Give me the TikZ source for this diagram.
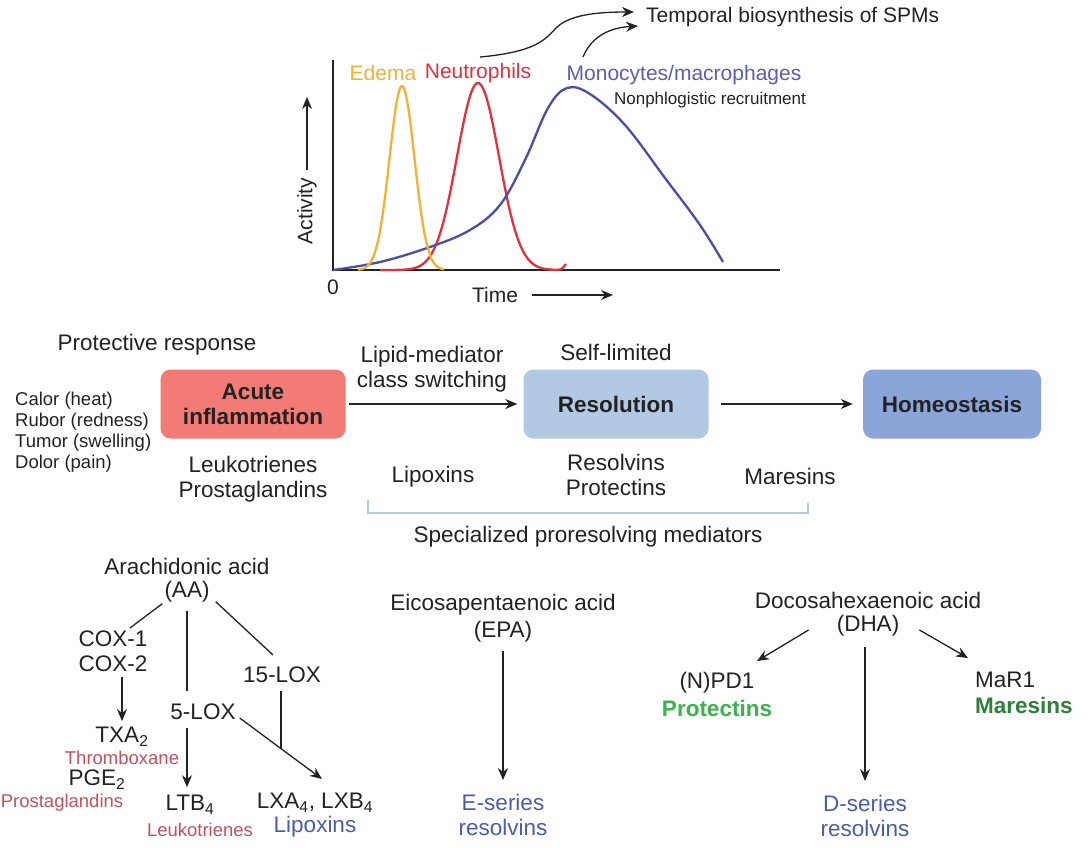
\documentclass[tikz,border=0pt]{standalone}
\usepackage{fontspec}
\setmainfont{Liberation Sans}
\usetikzlibrary{arrows.meta}
\definecolor{edemac}{HTML}{F2B233}
\definecolor{neutc}{HTML}{E0313D}
\definecolor{monoc}{HTML}{4C4DA6}
\definecolor{monot}{HTML}{5A5DB5}
\definecolor{acutefill}{HTML}{F37B75}
\definecolor{resolfill}{HTML}{B2C9E4}
\definecolor{homeofill}{HTML}{8CA5D9}
\definecolor{brack}{HTML}{B5CADF}
\definecolor{redlab}{HTML}{C3515E}
\definecolor{bluelab}{HTML}{4D5CA8}
\definecolor{greenP}{HTML}{3CB44B}
\definecolor{greenM}{HTML}{2F7F3C}
\definecolor{tc}{HTML}{222222}
\begin{document}
\begin{tikzpicture}[x=1pt,y=-1pt,
  txt/.style={font=\fontsize{22.5}{25}\selectfont, text=tc, inner sep=0pt, align=center},
  chartlab/.style={font=\fontsize{21}{25}\selectfont, text=tc, inner sep=0pt},
  small/.style={font=\fontsize{18.5}{21}\selectfont, text=tc, inner sep=0pt},
  tiny/.style={font=\fontsize{17}{20}\selectfont, text=tc, inner sep=0pt},
  box/.style={rounded corners=10pt, minimum height=69pt, font=\fontsize{22.5}{25}\selectfont\bfseries, text=tc, align=center},
  arr/.style={draw=tc, line width=1.3pt, -{Stealth[length=12pt,width=10pt]}},
  ln/.style={draw=tc, line width=1.3pt},
  curve/.style={line width=2.3pt}]
\useasboundingbox (0,0) rectangle (1092,847);
\fill[white] (0,0) rectangle (1092,847);

% ---------- chart ----------
\draw[ln, line width=1.7pt] (333,60) -- (333,270) -- (780,270);
\draw[curve, neutc] plot[domain=380:558, samples=80] (\x, {270-187*exp(-((\x-478)^2)/(2*21*21))}) .. controls (562,269) .. (566,264);
\draw[curve, monoc] plot[smooth, tension=0.6] coordinates {(333,270) (380,262) (430,247) (470,230) (500,205) (525,160) (548,108) (567,88) (590,94) (625,125) (665,178) (700,225) (723,262)};
\draw[curve, edemac] plot[domain=358:444, samples=80] (\x, {270-184*exp(-((\x-402)^2)/(2*12.5*12.5))});

\node[chartlab, text=edemac] (edema) at (383,73) {Edema};
\node[chartlab, text=neutc] (neut) at (478,73) {Neutrophils};
\node[chartlab, text=monot] (mono) at (684,75) {Monocytes/macrophages};
\node[tiny] (nonph) at (710,100) {Nonphlogistic recruitment};
\node[chartlab, anchor=west] (temporal) at (646,17) {Temporal biosynthesis of SPMs};
\node[chartlab, rotate=90] (activity) at (307,211) {Activity};
\coordinate (acttop) at (307,97);
\draw[arr, shorten <=8pt] (activity.east) -- (activity.east |- acttop);
\node[chartlab] (zero) at (333,287) {0};
\node[chartlab] (time) at (495,295) {Time};
\coordinate (timeend) at (613,293);
\draw[arr, shorten <=14pt] (time.east) -- (time.east -| timeend);
\coordinate (a1s) at (480,57);
\coordinate (a2s) at (583,57);
\draw[arr] (a1s) .. controls (535,52) and (545,40) .. (556,28) .. controls (570,14) and (600,12) .. ([xshift=-12pt,yshift=5pt]temporal.west);
\draw[arr] (a2s) .. controls (590,40) and (605,28) .. ([xshift=-8pt,yshift=-9pt]temporal.west);

% ---------- middle row ----------
\node[txt] (prot) at (157,345) {Protective response};
\node[box, fill=acutefill, minimum width=185pt] (acute) at (253,404) {Acute\\inflammation};
\node[small, align=left, anchor=north west] (signs) at (15,392) {Calor (heat)\\Rubor (redness)\\Tumor (swelling)\\Dolor (pain)};
\node[txt] (leuk) at (253,479) {Leukotrienes\\Prostaglandins};
\node[txt] (lipid) at (432,369) {Lipid-mediator\\class switching};
\node[txt] (self) at (616,352) {Self-limited};
\node[box, fill=resolfill, minimum width=185pt] (resol) at (616,404) {Resolution};
\node[box, fill=homeofill, minimum width=178pt] (homeo) at (952,404) {Homeostasis};
\draw[arr, shorten <=3pt, shorten >=6pt] (acute.east) -- (resol.west);
\draw[arr, shorten <=12pt, shorten >=10pt] (resol.east) -- (homeo.west);
\node[txt] (lipox) at (433,477) {Lipoxins};
\node[txt] (resprot) at (616,475) {Resolvins\\Protectins};
\node[txt] (mares) at (790,476) {Maresins};
\coordinate (bl) at (368,500);
\coordinate (br) at (808,503);
\draw[brack, line width=1.8pt] (bl) -- (368,513) -- (808,513) -- (br);
\node[txt] (spm) at (588,537) {Specialized proresolving mediators};

% ---------- AA ----------
\node[txt] (aaname) at (187,566) {Arachidonic acid};
\node[txt] (aa) at (187,592) {(AA)};
\node[txt] (cox) at (113,651) {COX-1\\COX-2};
\node[txt] (lox15) at (282,675) {15-LOX};
\node[txt] (lox5) at (203,712) {5-LOX};
\node[txt] (txa) at (122,737) {TXA\textsubscript{2}};
\node[small, text=redlab] (thromb) at (122,758) {Thromboxane};
\node[txt] (pge) at (97,780) {PGE\textsubscript{2}};
\node[small, text=redlab] (prost) at (62,803) {Prostaglandins};
\node[txt] (ltb) at (190,805) {LTB\textsubscript{4}};
\node[small, text=redlab] (leukred) at (200,830) {Leukotrienes};
\node[txt] (lxa) at (315,803) {LXA\textsubscript{4}, LXB\textsubscript{4}};
\node[txt, text=bluelab] (lipoxblue) at (315,827) {Lipoxins};
\coordinate (coxtop) at (130,628);
\coordinate (l15top) at (273,655);
\coordinate (l5line) at (187,691);
\coordinate (lxtip) at (322,779);
\draw[ln] ([xshift=-2pt,yshift=-1pt]aa.south west) -- (coxtop);
\draw[ln] ([xshift=6pt,yshift=1pt]aa.south east) -- (l15top);
\draw[ln] ([yshift=-8pt]aa.south) -- (l5line);
\draw[arr, shorten <=5pt, shorten >=6pt] (cox.south -| txa.north) -- (txa.north);
\draw[arr, shorten <=8pt, shorten >=8pt] (lox5.south -| 187,0) -- (187,0 |- ltb.north);
\draw[arr] ([xshift=4pt,yshift=-6pt]lox5.east) -- coordinate[pos=0.5] (join) (lxtip);
\draw[ln, shorten <=8pt] (lox15.south -| join) -- (join);

% ---------- EPA ----------
\node[txt] (epaname) at (503,605) {Eicosapentaenoic acid};
\node[txt] (epa) at (503,632) {(EPA)};
\node[txt, text=bluelab] (eser) at (503,815) {E-series\\resolvins};
\draw[arr, shorten <=8pt, shorten >=14pt] (epa.south) -- (eser.north);

% ---------- DHA ----------
\node[txt] (dhaname) at (868,600) {Docosahexaenoic acid};
\node[txt] (dha) at (868,626) {(DHA)};
\node[txt] (npd) at (717,683) {(N)PD1};
\node[txt, font=\fontsize{22.5}{25}\selectfont\bfseries, text=greenP] (protect) at (717,708) {Protectins};
\node[txt, anchor=west] (mar1) at (975,680) {MaR1};
\node[txt, anchor=west, font=\fontsize{22.5}{25}\selectfont\bfseries, text=greenM] (maresg) at (975,705) {Maresins};
\node[txt, text=bluelab] (dser) at (865,816) {D-series\\resolvins};
\coordinate (npdtip) at (757,661);
\coordinate (martip) at (968,658);
\draw[arr] ([xshift=-28pt,yshift=-4pt]dha.west) -- (npdtip);
\draw[arr] ([xshift=20pt,yshift=-4pt]dha.east) -- (martip);
\draw[arr, shorten <=10pt, shorten >=14pt] (dha.south -| dser.north) -- (dser.north);
\end{tikzpicture}
\end{document}
